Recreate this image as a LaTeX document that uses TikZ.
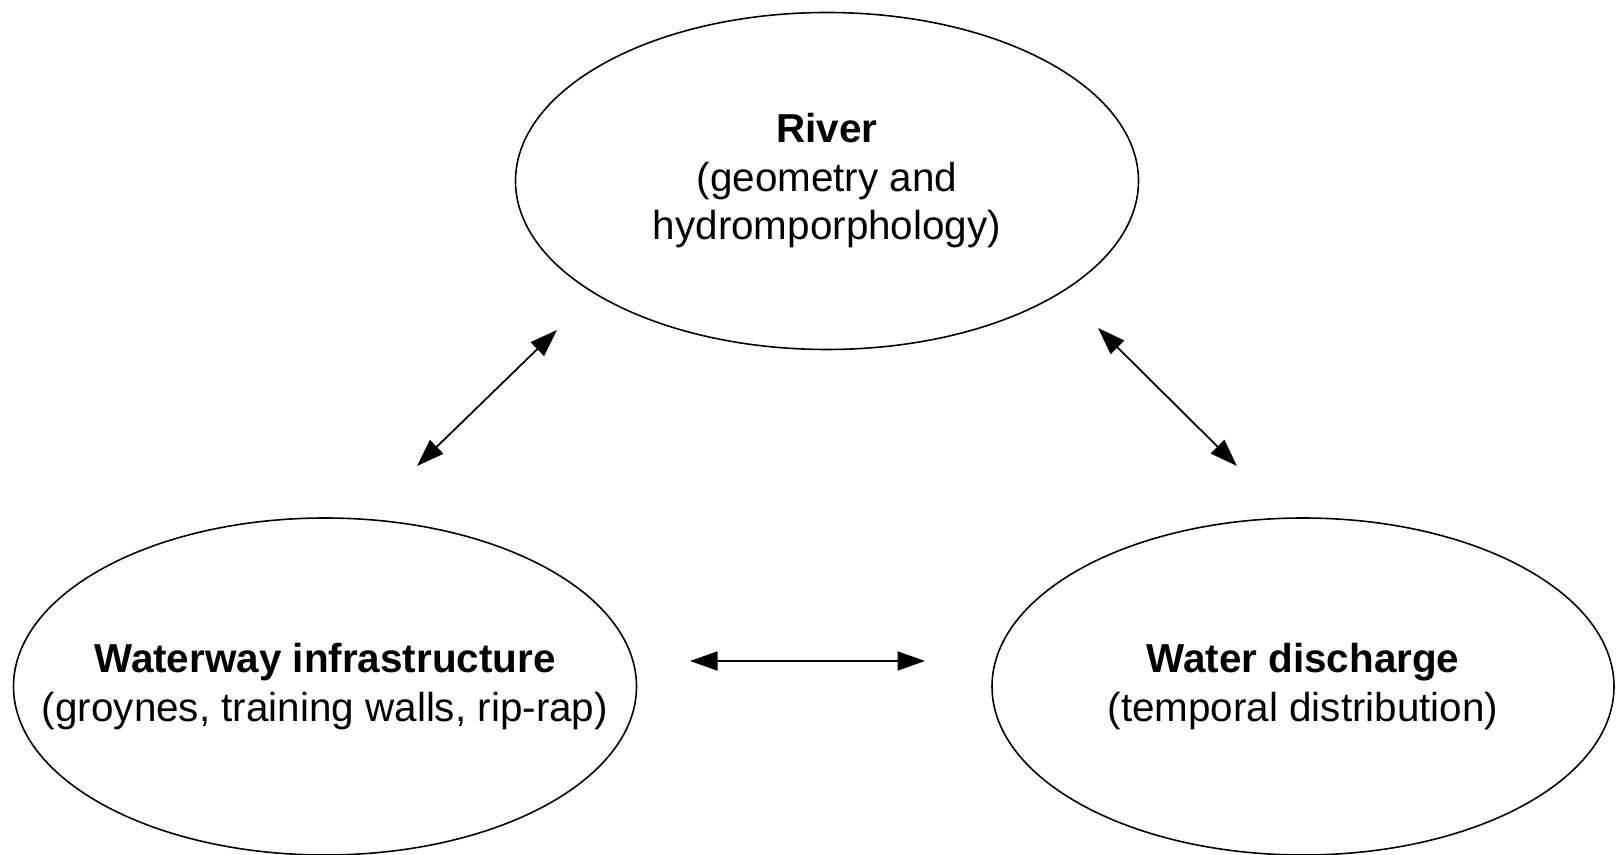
\documentclass[tikz,border=0pt]{standalone}
\usepackage{fontspec}
\setmainfont{Liberation Sans}
\usepackage{tikz}
\usetikzlibrary{arrows.meta}

\tikzset{
  topic/.style={align=center, inner sep=0pt},
  rim/.style={line width=0.9pt},
  link/.style={line width=1pt, {Triangle[length=0.55cm,width=0.38cm]}-{Triangle[length=0.55cm,width=0.38cm]}}
}

\begin{document}
\begin{tikzpicture}[font=\fontsize{23}{27.6}\selectfont]
\useasboundingbox (0,0) rectangle (32.32,17.08);
% the three topics
\node[topic] (river) at (16.54,13.46) {\textbf{River}\\(geometry and\\hydromporphology)};
\node[topic] (infra) at (6.5,3.35) {\textbf{Waterway infrastructure}\\(groynes, training walls, rip-rap)};
\node[topic] (flow) at (26.06,3.35) {\textbf{Water discharge}\\(temporal distribution)};
\draw[rim] (river.center) ellipse [x radius=6.23cm, y radius=3.37cm];
\draw[rim] (infra.center) ellipse [x radius=6.23cm, y radius=3.37cm];
\draw[rim] (flow.center) ellipse [x radius=6.22cm, y radius=3.37cm];
% arrow ends
\coordinate (ri) at (11.14,10.48);
\coordinate (ir) at (8.34,7.76);
\coordinate (rf) at (21.96,10.52);
\coordinate (fr) at (24.74,7.76);
\coordinate (if) at (13.8,3.86);
\coordinate (fi) at (18.5,3.86);
% links
\draw[link] (ir) -- (ri);
\draw[link] (rf) -- (fr);
\draw[link] (if) -- (fi);
\end{tikzpicture}
\end{document}
